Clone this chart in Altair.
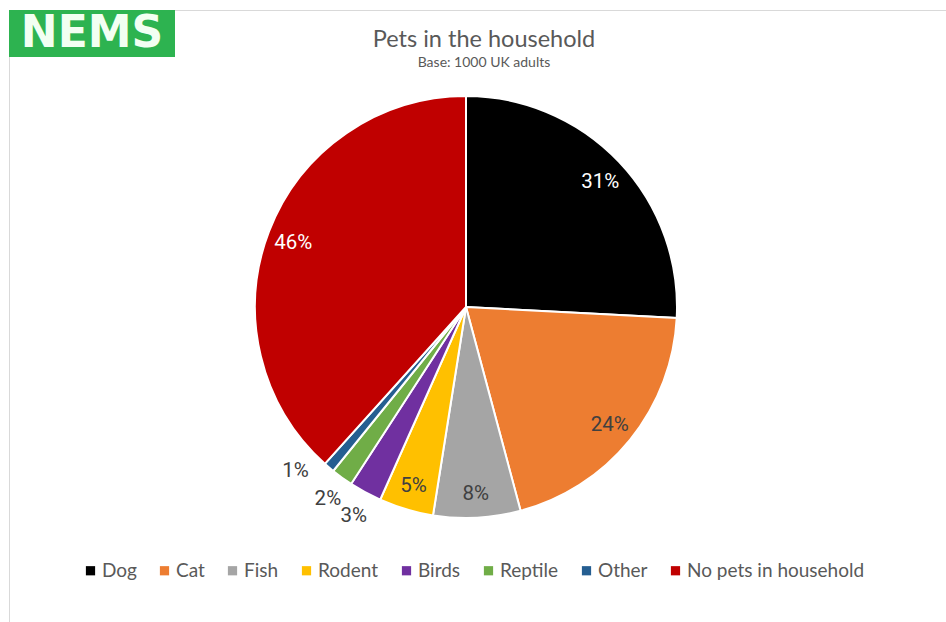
import math
import altair as alt
import pandas as pd

categories = ["Dog", "Cat", "Fish", "Rodent", "Birds", "Reptile", "Other", "No pets in household"]
values = [31, 24, 8, 5, 3, 2, 1, 46]
colors = ["#000000", "#ED7D31", "#A5A5A5", "#FFC000", "#7030A0", "#70AD47", "#255E91", "#C00000"]

title_text = "Pets in the household"
subtitle_text = "Base: 1000 UK adults"
logo_text = "NEMS"

total = sum(values)
df = pd.DataFrame({
    "category": categories,
    "value": values,
    "idx": list(range(len(categories))),
    "label": [f"{v}%" for v in values],
})

W, H = 946, 622
CX, CY, R = 466, 307, 211

one = pd.DataFrame({"a": [0]})

border_top = alt.Chart(one).mark_rule(color="#D9D9D9", strokeWidth=1).encode(
    x=alt.value(174), x2=alt.value(W), y=alt.value(10.5))
border_left = alt.Chart(one).mark_rule(color="#D9D9D9", strokeWidth=1).encode(
    x=alt.value(9.5), y=alt.value(56), y2=alt.value(H))

logo_rect = alt.Chart(one).mark_rect(color="#2DB350").encode(
    x=alt.value(9), x2=alt.value(175), y=alt.value(10), y2=alt.value(57))
logo = alt.Chart(one).mark_text(
    text=logo_text, font="DejaVu Sans", fontWeight="bold", fontSize=44,
    color="#F2FFF2", align="center", baseline="alphabetic").encode(
    x=alt.value(92), y=alt.value(47))

title = alt.Chart(one).mark_text(
    text=title_text, font="Lato", fontSize=23.5, color="#595959",
    align="center", baseline="alphabetic").encode(x=alt.value(484), y=alt.value(47))
subtitle = alt.Chart(one).mark_text(
    text=subtitle_text, font="Lato", fontSize=14, color="#595959",
    align="center", baseline="alphabetic").encode(x=alt.value(484), y=alt.value(67))

pie = alt.Chart(df).mark_arc(outerRadius=R, stroke="white", strokeWidth=2).encode(
    theta=alt.Theta("value:Q", stack=True),
    order=alt.Order("idx:Q", sort="ascending"),
    color=alt.Color(
        "category:N",
        scale=alt.Scale(domain=categories, range=colors),
        sort=categories,
        legend=alt.Legend(
            orient="none", legendX=81, legendY=561, direction="horizontal",
            title=None, symbolType="square", symbolSize=85, symbolStrokeWidth=0,
            labelFont="Lato", labelFontSize=19, labelColor="#595959",
            columnPadding=18, labelOffset=2, padding=0, labelLimit=400,
        ),
    ),
    x=alt.value(CX), y=alt.value(CY),
)

labels = alt.Chart(df).transform_window(
    cum="sum(value)", sort=[alt.SortField("idx")], frame=[None, 0]
).transform_calculate(
    mid="datum.cum - datum.value / 2 + (datum.category == 'Other' ? 2 : 0)",
    r="datum.value >= 5 ? 185 : 235",
).mark_text(font="Roboto", fontSize=20.5, align="center", baseline="middle", dy=2).encode(
    theta=alt.Theta("mid:Q", scale=alt.Scale(domain=[0, total], range=[0, 2 * math.pi])),
    radius=alt.Radius("r:Q", scale=None),
    text="label:N",
    color=alt.condition("datum.value > 30", alt.value("white"), alt.value("#404040")),
    x=alt.value(CX), y=alt.value(CY),
)

chart = alt.layer(
    border_top, border_left, logo_rect, logo, title, subtitle, pie, labels
).resolve_scale(theta="independent").properties(
    width=W, height=H, padding=0,
    autosize=alt.AutoSizeParams(type="none"),
    background="white",
).configure_view(stroke=None)

chart.save("out.html", embed_options={"renderer": "svg", "actions": False})
